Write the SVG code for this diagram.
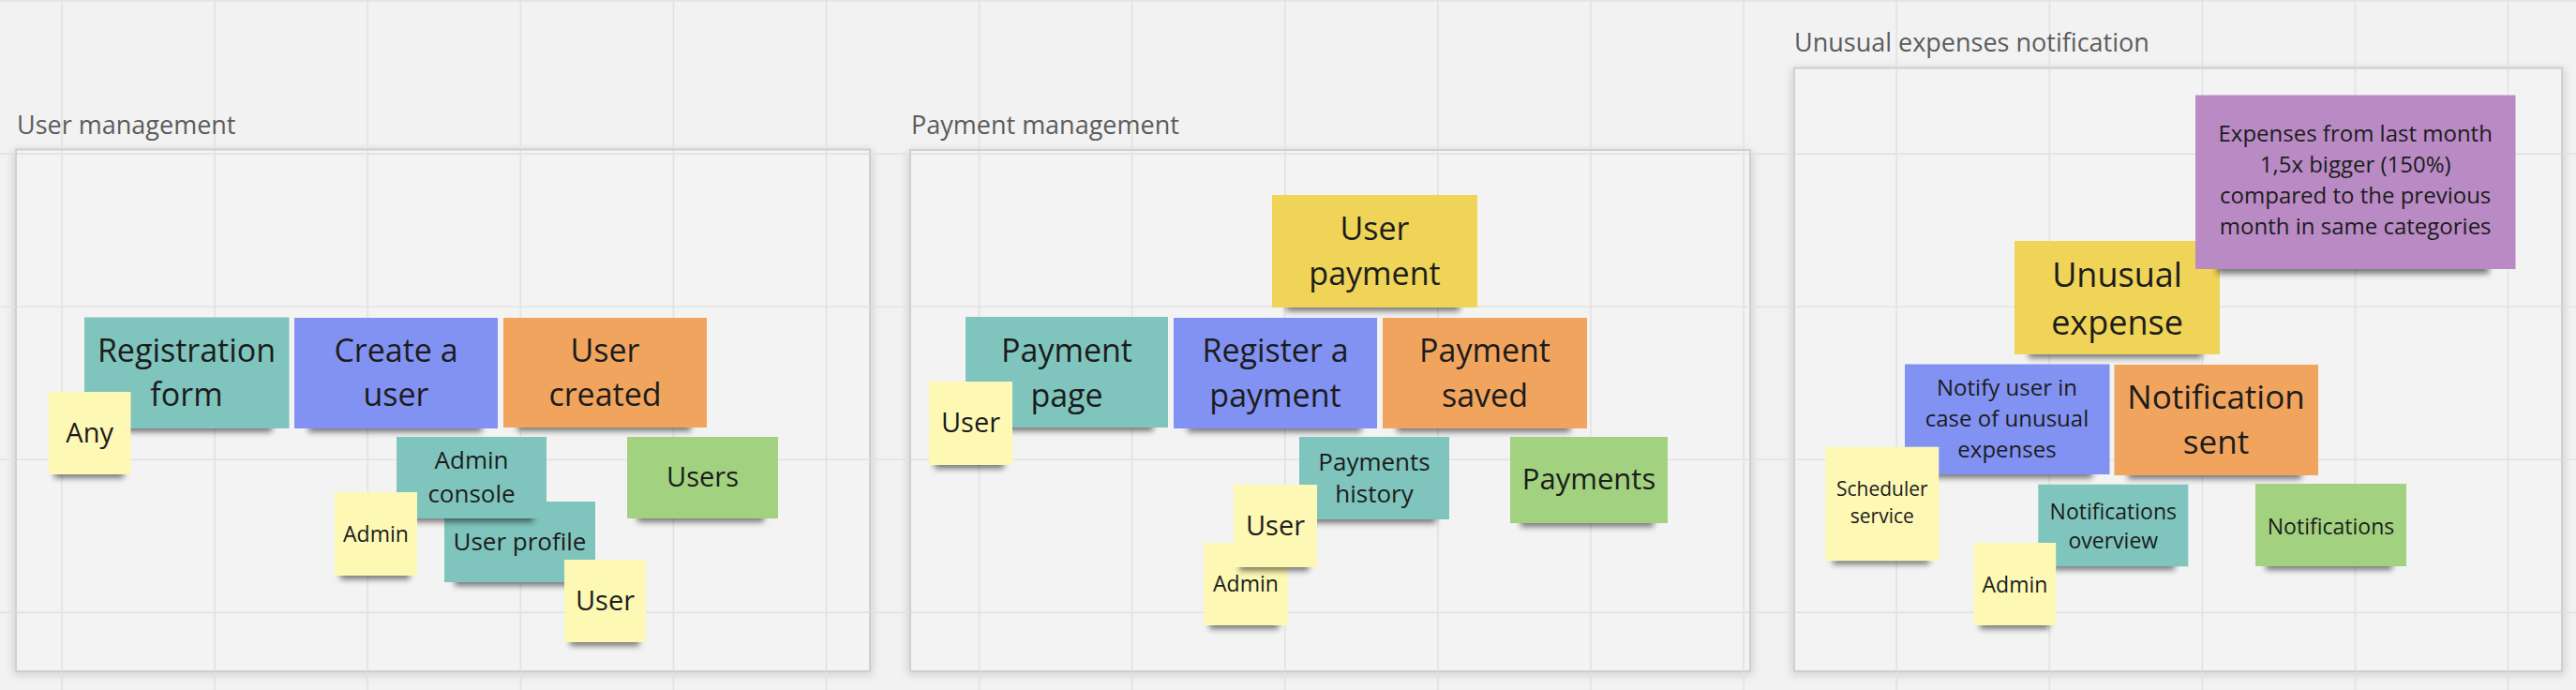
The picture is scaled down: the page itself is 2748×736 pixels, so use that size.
<svg xmlns="http://www.w3.org/2000/svg" width="2748" height="736" viewBox="0 0 2748 736">
<defs>
<filter id="nshadow" x="-20%" y="-100%" width="140%" height="300%"><feGaussianBlur stdDeviation="3.2"/></filter>
<filter id="fshadow" x="-5%" y="-5%" width="110%" height="110%"><feGaussianBlur stdDeviation="5"/></filter>
</defs>
<style>
.bg{fill:#f2f2f2}
.grid{stroke:#e2e2e2;stroke-width:1.6;fill:none}
.frame{fill:#f3f3f3;stroke:#cfcfcf;stroke-width:1.6}
.frameglow{fill:#000;opacity:.13;filter:url(#fshadow)}
.flabel{font-family:"Open Sans","Noto Sans","Liberation Sans",sans-serif;font-size:27px;fill:#5c5c5c}
.sh{fill:#000;opacity:.5;filter:url(#nshadow)}
text.t{font-family:"Open Sans","Noto Sans","Liberation Sans",sans-serif;fill:#1c1c1c;text-anchor:middle}
.teal{fill:#7fc5bd}
.blue{fill:#8292f3}
.orange{fill:#f1a45e}
.ly{fill:#fef8b5}
.green{fill:#a2d27f}
.yellow{fill:#efd458}
.purple{fill:#b98ac4}
</style>
<rect class="bg" x="0" y="0" width="2748" height="736"/>
<g id="frames">
<rect class="frameglow" x="14" y="160" width="917" height="560"/>
<rect class="frameglow" x="968" y="161" width="902" height="559"/>
<rect class="frameglow" x="1911" y="73" width="825" height="647"/>
<rect class="frame" x="17" y="159.5" width="911" height="556.5"/>
<rect class="frame" x="971" y="160" width="896" height="556"/>
<rect class="frame" x="1914" y="72.5" width="819" height="643.5"/>
</g>
<path class="grid" d="M66 0V736M229.1 0V736M392.2 0V736M555.3 0V736M718.4 0V736M881.5 0V736M1044.6 0V736M1207.7 0V736M1370.8 0V736M1533.9 0V736M1697 0V736M1860.1 0V736M2023.2 0V736M2186.3 0V736M2349.4 0V736M2512.5 0V736M2675.6 0V736M0 1H2748M0 164.1H2748M0 327.2H2748M0 490.3H2748M0 653.4H2748"/>
<g id="frame-borders" fill="none" stroke="#cfcfcf" stroke-width="1.6">
<rect x="17" y="159.5" width="911" height="556.5"/>
<rect x="971" y="160" width="896" height="556"/>
<rect x="1914" y="72.5" width="819" height="643.5"/>
</g>
<g id="frame-labels">
<text class="flabel" x="18" y="143">User management</text>
<text class="flabel" x="972" y="143">Payment management</text>
<text class="flabel" x="1914" y="55">Unusual expenses notification</text>
</g>
<g id="connectors"></g>

<!-- User management -->
<g id="registration-form"><rect class="sh" x="105" y="449" width="185" height="12"/><rect class="teal" x="90" y="338.5" width="218.5" height="118.5"/><text class="t" font-size="34" x="199" y="385.5">Registration</text><text class="t" font-size="34" x="199" y="432.5">form</text></g>
<g id="create-a-user"><rect class="sh" x="329" y="449" width="185" height="12"/><rect class="blue" x="314" y="339" width="217" height="118"/><text class="t" font-size="34" x="422.5" y="386">Create a</text><text class="t" font-size="34" x="422.5" y="433">user</text></g>
<g id="user-created"><rect class="sh" x="552" y="448" width="185" height="12"/><rect class="orange" x="537" y="339" width="217" height="117"/><text class="t" font-size="34" x="645.5" y="386">User</text><text class="t" font-size="34" x="645.5" y="433">created</text></g>
<g id="user-profile"><rect class="sh" x="485" y="613" width="135" height="12"/><rect class="teal" x="474" y="535" width="161" height="86"/><text class="t" font-size="26" x="554.5" y="587">User profile</text></g>
<g id="admin-console"><rect class="sh" x="434" y="545" width="135" height="12"/><rect class="teal" x="423" y="466" width="160" height="87"/><text class="t" font-size="26" x="503" y="499.6">Admin</text><text class="t" font-size="26" x="503" y="536">console</text></g>
<g id="users"><rect class="sh" x="680" y="545" width="135" height="12"/><rect class="green" x="669" y="466" width="161" height="87"/><text class="t" font-size="29" x="749.5" y="519">Users</text></g>
<g id="any"><rect class="sh" x="58" y="498" width="74" height="12"/><rect class="ly" x="52" y="418" width="87.5" height="88"/><text class="t" font-size="29" x="95.7" y="471.7">Any</text></g>
<g id="admin-1"><rect class="sh" x="363" y="606" width="74" height="12"/><rect class="ly" x="357" y="525" width="88" height="89"/><text class="t" font-size="23" x="401" y="577.5">Admin</text></g>
<g id="user-1"><rect class="sh" x="608" y="677" width="74" height="12"/><rect class="ly" x="602" y="597" width="87" height="88"/><text class="t" font-size="29" x="645.5" y="651">User</text></g>

<!-- Payment management -->
<g id="user-payment"><rect class="sh" x="1372" y="320" width="185" height="12"/><rect class="yellow" x="1357" y="208" width="219" height="120"/><text class="t" font-size="34" x="1466.5" y="256">User</text><text class="t" font-size="34" x="1466.5" y="303.6">payment</text></g>
<g id="payment-page"><rect class="sh" x="1045" y="448" width="185" height="12"/><rect class="teal" x="1030" y="338" width="216" height="118"/><text class="t" font-size="34" x="1138" y="386">Payment</text><text class="t" font-size="34" x="1138" y="433.5">page</text></g>
<g id="register-a-payment"><rect class="sh" x="1267" y="449" width="185" height="12"/><rect class="blue" x="1252" y="339" width="217" height="118"/><text class="t" font-size="34" x="1360.5" y="386">Register a</text><text class="t" font-size="34" x="1360.5" y="433.5">payment</text></g>
<g id="payment-saved"><rect class="sh" x="1490" y="449" width="185" height="12"/><rect class="orange" x="1475" y="339" width="218" height="118"/><text class="t" font-size="34" x="1584" y="386">Payment</text><text class="t" font-size="34" x="1584" y="433.5">saved</text></g>
<g id="user-2"><rect class="sh" x="997" y="488" width="74" height="12"/><rect class="ly" x="991" y="407" width="89" height="89"/><text class="t" font-size="29" x="1035.5" y="461">User</text></g>
<g id="payments-history"><rect class="sh" x="1397" y="546" width="135" height="12"/><rect class="teal" x="1386" y="466" width="160" height="88"/><text class="t" font-size="26" x="1466" y="501.6">Payments</text><text class="t" font-size="26" x="1466" y="536">history</text></g>
<g id="payments"><rect class="sh" x="1622" y="550" width="142" height="12"/><rect class="green" x="1611" y="466" width="168" height="92"/><text class="t" font-size="31" x="1695" y="522">Payments</text></g>
<g id="admin-2"><rect class="sh" x="1290" y="659" width="74" height="12"/><rect class="ly" x="1284" y="579" width="90" height="88"/><text class="t" font-size="23" x="1329" y="630.6">Admin</text></g>
<g id="user-3"><rect class="sh" x="1322" y="597" width="74" height="12"/><rect class="ly" x="1316" y="517" width="89" height="88"/><text class="t" font-size="29" x="1360.5" y="570.6">User</text></g>

<!-- Unusual expenses notification -->
<g id="unusual-expense"><rect class="sh" x="2164" y="370" width="185" height="12"/><rect class="yellow" x="2149" y="257" width="219" height="121"/><text class="t" font-size="36" x="2258.5" y="306">Unusual</text><text class="t" font-size="36" x="2258.5" y="356.8">expense</text></g>
<g id="expenses-condition"><rect class="sh" x="2365" y="278" width="290" height="14"/><rect class="purple" x="2342" y="101.5" width="341.5" height="185.5"/><text class="t" font-size="24" x="2512.7" y="151">Expenses from last month</text><text class="t" font-size="24" x="2512.7" y="184">1,5x bigger (150%)</text><text class="t" font-size="24" x="2512.7" y="217">compared to the previous</text><text class="t" font-size="24" x="2512.7" y="250">month in same categories</text></g>
<g id="notify-user"><rect class="sh" x="2047" y="498" width="185" height="12"/><rect class="blue" x="2032" y="388.5" width="218.5" height="117.5"/><text class="t" font-size="24" x="2141" y="421.7">Notify user in</text><text class="t" font-size="24" x="2141" y="454.7">case of unusual</text><text class="t" font-size="24" x="2141" y="487.7">expenses</text></g>
<g id="notification-sent"><rect class="sh" x="2270" y="499" width="185" height="12"/><rect class="orange" x="2255.5" y="389" width="217.5" height="118"/><text class="t" font-size="35" x="2364" y="435.7">Notification</text><text class="t" font-size="35" x="2364" y="483.6">sent</text></g>
<g id="scheduler-service"><rect class="sh" x="1955" y="590" width="103" height="12"/><rect class="ly" x="1947.3" y="476.7" width="121" height="121.6"/><text class="t" font-size="21" x="2007.8" y="529">Scheduler</text><text class="t" font-size="21" x="2007.8" y="558.3">service</text></g>
<g id="notifications-overview"><rect class="sh" x="2185" y="596" width="135" height="12"/><rect class="teal" x="2174.3" y="516.7" width="160" height="87.5"/><text class="t" font-size="23" x="2254.3" y="554">Notifications</text><text class="t" font-size="23" x="2254.3" y="584.5">overview</text></g>
<g id="admin-3"><rect class="sh" x="2112" y="659" width="74" height="12"/><rect class="ly" x="2105.7" y="579" width="87.5" height="88"/><text class="t" font-size="23" x="2149.5" y="631.5">Admin</text></g>
<g id="notifications"><rect class="sh" x="2417" y="596" width="135" height="12"/><rect class="green" x="2406" y="516" width="161" height="88"/><text class="t" font-size="23" x="2486.5" y="569.5">Notifications</text></g>
</svg>
